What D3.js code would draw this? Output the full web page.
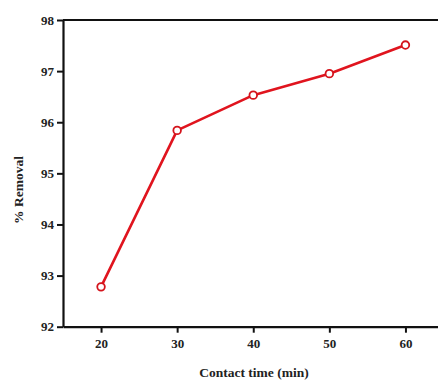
<!DOCTYPE html>
<html>
<head>
<meta charset="utf-8">
<script src="https://cdn.jsdelivr.net/npm/d3@7"></script>
<style>
  html, body { margin: 0; padding: 0; background: #fff; }
  svg { display: block; }
  .axis text { font-family: "Liberation Serif", "Times New Roman", serif; font-weight: bold; font-size: 13px; fill: #222; }
  .axis path, .axis line { stroke: #111; }
  .label { font-family: "Liberation Serif", "Times New Roman", serif; font-weight: bold; font-size: 13.5px; fill: #222; }
</style>
</head>
<body>
<script>
// Removal efficiency against contact time
const contactTime = [20, 30, 40, 50, 60];
const removal = [92.78, 95.84, 96.53, 96.95, 97.51];
const xTicks = [20, 30, 40, 50, 60];
const yTicks = [92, 93, 94, 95, 96, 97, 98];

const W = 438, H = 381;
const svg = d3.select("body").append("svg").attr("width", W).attr("height", H);

const x = d3.scaleLinear().domain([15, 65]).range([63, 443.5]);
const y = d3.scaleLinear().domain([92, 98]).range([326.7, 20]);

// frame top edge
svg.append("line")
  .attr("x1", x(15)).attr("x2", x(65))
  .attr("y1", y(98)).attr("y2", y(98))
  .attr("stroke", "#111").attr("stroke-width", 2.2);

const xAxis = svg.append("g").attr("class", "axis")
  .attr("transform", `translate(0,${y(92)})`)
  .call(d3.axisBottom(x).tickValues(xTicks).tickFormat(d3.format("d"))
    .tickSize(6).tickPadding(6).tickSizeOuter(0));
xAxis.select(".domain").attr("stroke-width", 2.2);
xAxis.selectAll(".tick line").attr("stroke-width", 2);

const yAxis = svg.append("g").attr("class", "axis")
  .attr("transform", `translate(${x(15)},0)`)
  .call(d3.axisLeft(y).tickValues(yTicks).tickFormat(d3.format("d"))
    .tickSize(6).tickPadding(3).tickSizeOuter(0));
yAxis.select(".domain").attr("stroke-width", 2.2);
yAxis.selectAll(".tick line").attr("stroke-width", 2);

const pts = contactTime.map((t, i) => [t, removal[i]]);

svg.append("path")
  .datum(pts)
  .attr("fill", "none")
  .attr("stroke", "#e0141e")
  .attr("stroke-width", 2.6)
  .attr("stroke-linejoin", "round")
  .attr("d", d3.line().x(d => x(d[0])).y(d => y(d[1])));

svg.selectAll("circle.pt")
  .data(pts)
  .enter().append("circle")
  .attr("class", "pt")
  .attr("cx", d => x(d[0]))
  .attr("cy", d => y(d[1]))
  .attr("r", 3.8)
  .attr("fill", "#fff")
  .attr("stroke", "#d4141c")
  .attr("stroke-width", 1.8);

svg.append("text").attr("class", "label")
  .attr("x", 254).attr("y", 377)
  .attr("text-anchor", "middle")
  .text("Contact time (min)");

svg.append("text").attr("class", "label")
  .attr("transform", "translate(23,190) rotate(-90)")
  .attr("text-anchor", "middle")
  .text("% Removal");
</script>
</body>
</html>
